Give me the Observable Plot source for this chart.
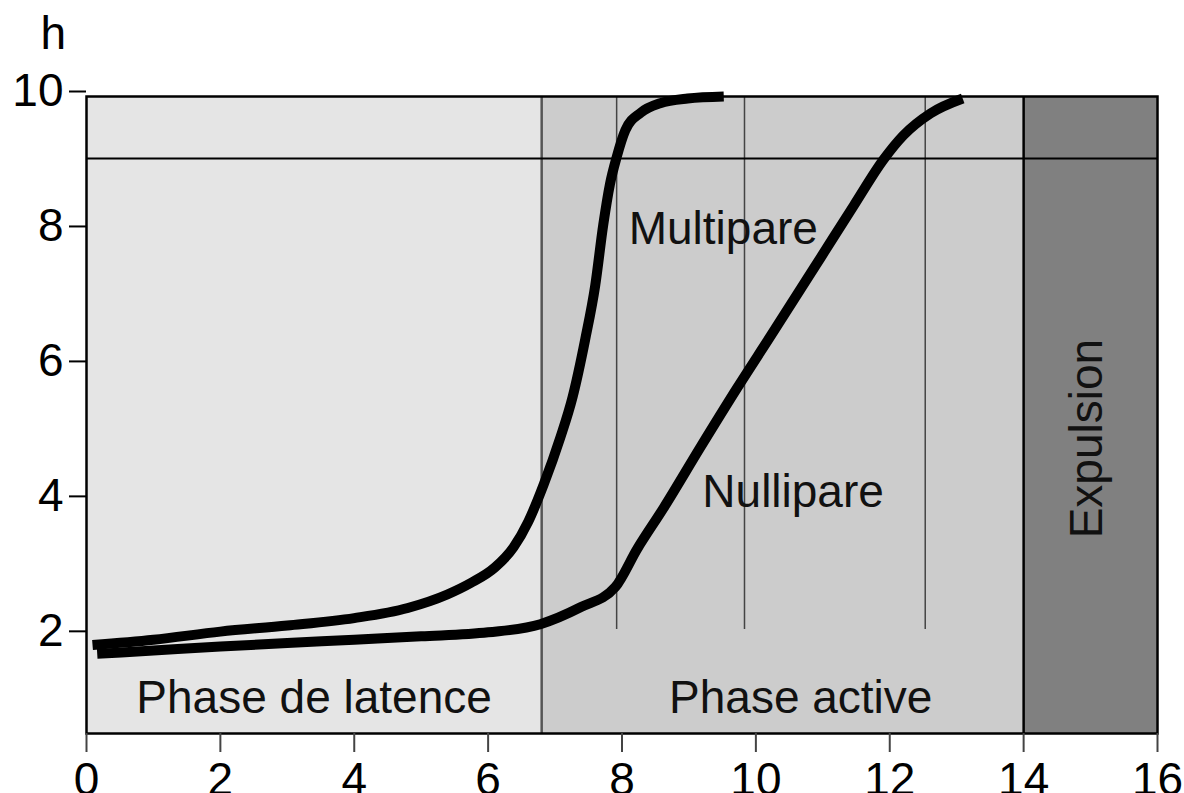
<!DOCTYPE html>
<html>
<head>
<meta charset="utf-8">
<script src="https://cdn.jsdelivr.net/npm/d3@7"></script>
<script src="https://cdn.jsdelivr.net/npm/@observablehq/plot@0.6"></script>
<style>
  html, body { margin: 0; padding: 0; background: #fff; }
  svg { display: block; }
</style>
</head>
<body>
<script>
// ---- Data ----
const phaseNames = ["Phase de latence", "Phase active", "Expulsion"];
const phaseStart = [0, 6.8, 14];
const phaseEnd = [6.8, 14, 16];

const multipareX = [0.09, 1, 2, 3, 4, 4.8, 5.39, 5.74, 6.1, 6.38, 6.6, 6.83, 7.08, 7.26, 7.45, 7.6, 7.72, 7.82, 7.92, 8.05, 8.28, 8.57, 8.98, 9.52];
const multipareY = [1.87, 1.95, 2.07, 2.16, 2.27, 2.42, 2.62, 2.79, 3.02, 3.32, 3.7, 4.25, 4.95, 5.54, 6.4, 7.2, 8.1, 8.7, 9.1, 9.5, 9.76, 9.9, 9.97, 10.0];

const nullipareX = [0.16, 1, 2, 3, 4, 5, 6, 6.78, 7.38, 7.9, 8.23, 8.62, 9.17, 9.72, 10.22, 10.96, 11.46, 11.91, 12.2, 12.61, 13.09];
const nullipareY = [1.74, 1.79, 1.85, 1.9, 1.95, 2.0, 2.06, 2.18, 2.43, 2.73, 3.3, 3.9, 4.8, 5.68, 6.45, 7.6, 8.38, 9.07, 9.42, 9.75, 9.97];

const gridXs = [7.92, 9.83, 12.53];
const gridBottom = 2.1;
const thresholdY = 9.08;

const xTicks = [0, 2, 4, 6, 8, 10, 12, 14, 16];
const yTicks = [2, 4, 6, 8, 10];
const yMin = 0.56, yMax = 10;

const curveLabels = ["Multipare", "Nullipare"];
const curveLabelX = [8.1, 9.2];
const curveLabelY = [7.82, 3.91];

// ---- Build tables ----
const phases = phaseNames.map((n, i) => ({name: n, x1: phaseStart[i], x2: phaseEnd[i]}));
const multi = multipareX.map((x, i) => ({x, y: multipareY[i]}));
const nulli = nullipareX.map((x, i) => ({x, y: nullipareY[i]}));
const curveLabelData = curveLabels.map((t, i) => ({t, x: curveLabelX[i], y: curveLabelY[i]}));

const phaseFill = ["#e5e5e5", "#cccccc", "#808080"];
const font = "'Liberation Sans', Arial, Helvetica, sans-serif";

const chart = Plot.plot({
  width: 1184,
  height: 793,
  marginLeft: 86,
  marginRight: 27,
  marginTop: 96,
  marginBottom: 60,
  x: {domain: [0, 16]},
  y: {domain: [yMin, yMax]},
  style: {fontFamily: font, fontSize: "46px", background: "#fff", color: "#000"},
  marks: [
    Plot.rect(phases, {x1: "x1", x2: "x2", y1: yMin, y2: yMax, fill: (d, i) => phaseFill[i]}),
    Plot.ruleX(gridXs, {y1: gridBottom, y2: yMax, stroke: "#444", strokeWidth: 1.5}),
    Plot.ruleX([phaseStart[1]], {y1: yMin, y2: yMax, stroke: "#555", strokeWidth: 2.5}),
    Plot.ruleX([phaseStart[2]], {y1: yMin, y2: yMax, stroke: "#000", strokeWidth: 2.5}),
    Plot.ruleY([thresholdY], {x1: 0, x2: 16, stroke: "#000", strokeWidth: 2}),
    Plot.frame({stroke: "#000", strokeWidth: 2.5}),
    Plot.line(nulli, {x: "x", y: "y", stroke: "#000", strokeWidth: 10, curve: "monotone-x", strokeLinecap: "butt", strokeLinejoin: "round"}),
    Plot.line(multi, {x: "x", y: "y", stroke: "#000", strokeWidth: 10, curve: "monotone-x", strokeLinecap: "butt", strokeLinejoin: "round"}),
    Plot.text(curveLabelData, {x: "x", y: "y", text: "t", textAnchor: "start", lineAnchor: "bottom", fill: "#111", fontSize: 46}),
    Plot.text([phases[0]], {x: d => (d.x1 + d.x2) / 2, y: 0.86, text: "name", lineAnchor: "bottom", fill: "#111", fontSize: 46}),
    Plot.text([phases[1]], {x: 10.67, y: 0.86, text: "name", lineAnchor: "bottom", fill: "#111", fontSize: 46}),
    Plot.text([phases[2]], {x: 14.95, y: 4.93, text: "name", rotate: -90, textAnchor: "middle", lineAnchor: "middle", fill: "#111", fontSize: 46}),
    Plot.axisX({ticks: xTicks, tickSize: 19, tickPadding: 10, stroke: "#444", strokeWidth: 2, fill: "#000", label: null, fontSize: 46}),
    Plot.axisY({ticks: yTicks, tickSize: 17, tickPadding: 6, stroke: "#000", strokeWidth: 2, fill: "#000", label: null, fontSize: 46, dy: -5}),
    Plot.text(["h"], {frameAnchor: "top-left", dx: -46, dy: -48, textAnchor: "start", lineAnchor: "bottom", fill: "#000", fontSize: 46})
  ]
});

document.body.appendChild(chart);
</script>
</body>
</html>
